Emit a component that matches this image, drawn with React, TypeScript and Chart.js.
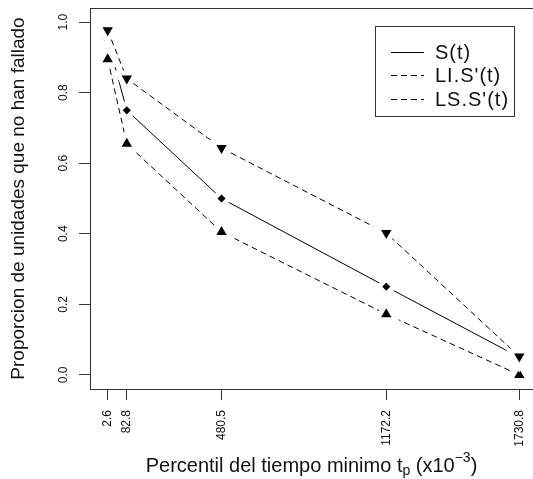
import React, { useEffect, useRef } from 'react';
import { Chart, registerables } from 'chart.js';

Chart.register(...registerables);

const FONT = '"Liberation Sans", Arial, Helvetica, sans-serif';

// ---- data ----
const xValues = [2.6, 82.8, 480.5, 1172.2, 1730.8];
const xTickLabels = ['2.6', '82.8', '480.5', '1172.2', '1730.8'];
const sValues = [0.95, 0.75, 0.5, 0.25, 0.05];
const liValues = [0.895, 0.655, 0.405, 0.172, 0.0];
const lsValues = [0.977, 0.84, 0.643, 0.402, 0.052];
const yTicks = [0, 0.2, 0.4, 0.6, 0.8, 1.0];
const seriesLabels = ['S(t)', "LI.S'(t)", "LS.S'(t)"];
const yTitle = 'Proporcion de unidades que no han fallado';
const xTitleMain = 'Percentil del tiempo minimo t';
const xTitleSub = 'p';
const xTitleMid = ' (x10';
const xTitleSup = '\u22123';
const xTitleEnd = ')';

const toPoints = (ys: number[]) => xValues.map((x, i) => ({ x, y: ys[i] }));

const decorPlugin = {
  id: 'decor',
  afterDraw(chart: any) {
    const { ctx, chartArea } = chart;
    ctx.save();
    // top border of the plot box
    ctx.strokeStyle = '#333';
    ctx.lineWidth = 1;
    ctx.beginPath();
    const ty = Math.round(chartArea.top) + 0.5;
    ctx.moveTo(Math.round(chartArea.left) + 0.5, ty);
    ctx.lineTo(chartArea.right, ty);
    ctx.stroke();

    // legend box
    const lx = 375.5, ltop = 26.5, lw = 139, lh = 90;
    ctx.strokeStyle = '#333';
    ctx.strokeRect(lx, ltop, lw, lh);
    const rows = [52.5, 75.5, 99.5];
    ctx.font = `20px ${FONT}`;
    ctx.textBaseline = 'middle';
    ctx.textAlign = 'left';
    ctx.fillStyle = '#111';
    chart.data.datasets.forEach((ds: any, i: number) => {
      const y = rows[i];
      ctx.beginPath();
      ctx.setLineDash(ds.borderDash || []);
      ctx.strokeStyle = '#000';
      ctx.lineWidth = 1;
      ctx.moveTo(391, y);
      ctx.lineTo(424, y);
      ctx.stroke();
      ctx.setLineDash([]);
      try { (ctx as any).letterSpacing = '1px'; } catch (e) {}
      ctx.fillText(ds.label, 435, y + 1);
      try { (ctx as any).letterSpacing = '0px'; } catch (e) {}
    });

    // x title with subscript / superscript
    const big = `20px ${FONT}`;
    const small = `14px ${FONT}`;
    const pieces = [
      { t: xTitleMain, f: big, dy: 0 },
      { t: xTitleSub, f: small, dy: 3 },
      { t: xTitleMid, f: big, dy: 0 },
      { t: xTitleSup, f: small, dy: -10 },
      { t: xTitleEnd, f: big, dy: 0 },
    ];
    let total = 0;
    const widths = pieces.map((p) => {
      ctx.font = p.f;
      const w = ctx.measureText(p.t).width;
      total += w;
      return w;
    });
    const cx = (chartArea.left + chartArea.right) / 2;
    let x = cx - total / 2;
    const base = 472;
    ctx.textBaseline = 'alphabetic';
    ctx.fillStyle = '#111';
    pieces.forEach((p, i) => {
      ctx.font = p.f;
      ctx.fillText(p.t, x, base + p.dy);
      x += widths[i];
    });
    ctx.restore();
  },
};

export default function App() {
  const ref = useRef<HTMLCanvasElement | null>(null);
  useEffect(() => {
    document.body.style.margin = '0';
    const canvas = ref.current;
    if (!canvas) return;
    const pointCommon = {
      pointBackgroundColor: '#000',
      pointBorderColor: '#fff',
      pointBorderWidth: 5,
      pointHoverRadius: 0,
    };
    const chart = new Chart(canvas, {
      type: 'line',
      data: {
        datasets: [
          {
            label: seriesLabels[0],
            data: toPoints(sValues),
            borderColor: '#000',
            borderWidth: 1,
            borderDash: [],
            pointStyle: 'rectRot',
            pointRadius: 7.6,
            order: 2,
            ...pointCommon,
          },
          {
            label: seriesLabels[1],
            data: toPoints(liValues),
            borderColor: '#000',
            borderWidth: 1,
            borderDash: [6, 4],
            pointStyle: 'triangle',
            pointRadius: 11,
            order: 1,
            ...pointCommon,
          },
          {
            label: seriesLabels[2],
            data: toPoints(lsValues),
            borderColor: '#000',
            borderWidth: 1,
            borderDash: [6, 4],
            pointStyle: 'triangle',
            pointRotation: 180,
            pointRadius: 11,
            order: 0,
            ...pointCommon,
          },
        ],
      },
      options: {
        animation: false,
        responsive: false,
        devicePixelRatio: 1,
        layout: { autoPadding: false, padding: { top: 8, left: 0, right: 0, bottom: 0 } },
        plugins: { legend: { display: false }, tooltip: { enabled: false } },
        elements: { line: { tension: 0 } },
        scales: {
          x: {
            type: 'linear',
            min: -71.7,
            max: 1788.3,
            afterBuildTicks: (s: any) => {
              s.ticks = xValues.map((v) => ({ value: v }));
            },
            afterFit: (s: any) => {
              s.height = 90;
            },
            grid: {
              display: true,
              drawOnChartArea: false,
              drawTicks: true,
              tickLength: 11,
              color: '#333',
              lineWidth: 1,
            },
            border: { display: true, color: '#333', width: 1 },
            ticks: {
              autoSkip: false,
              minRotation: 90,
              maxRotation: 90,
              padding: 10,
              color: '#111',
              font: { family: FONT, size: 12, lineHeight: 0.1 },
              callback: (_v: any, i: number) => xTickLabels[i],
            },
          },
          y: {
            type: 'linear',
            min: -0.04,
            max: 1.04,
            afterBuildTicks: (s: any) => {
              s.ticks = yTicks.map((v) => ({ value: v }));
            },
            afterFit: (s: any) => {
              s.width = 90;
            },
            grid: {
              display: true,
              drawOnChartArea: false,
              drawTicks: true,
              tickLength: 11,
              color: '#333',
              lineWidth: 1,
            },
            border: { display: true, color: '#333', width: 1 },
            ticks: {
              minRotation: 90,
              maxRotation: 90,
              crossAlign: 'center',
              padding: 7,
              color: '#111',
              font: { family: FONT, size: 12, lineHeight: 0.1 },
              callback: (v: any) => Number(v).toFixed(1),
            },
            title: {
              display: true,
              text: yTitle,
              color: '#111',
              font: { family: FONT, size: 19 },
              padding: { top: 7, bottom: 0 },
            },
          },
        },
      },
      plugins: [decorPlugin],
    } as any);
    return () => chart.destroy();
  }, []);
  return (
    <div style={{ width: 533, height: 479 }}>
      <canvas ref={ref} width={533} height={479} style={{ display: 'block' }} />
    </div>
  );
}
